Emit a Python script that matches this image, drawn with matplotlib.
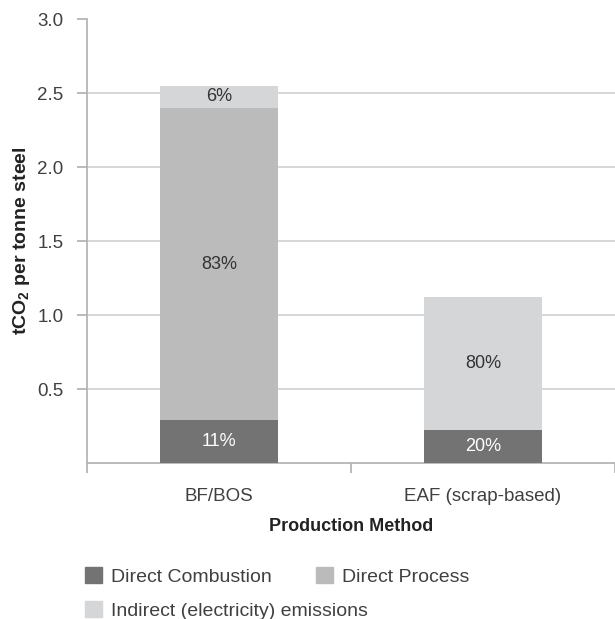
import numpy as np
import matplotlib

matplotlib.use("Agg")
import matplotlib.pyplot as plt
from matplotlib.patches import Patch

plt.rcParams["font.family"] = ["Liberation Sans", "DejaVu Sans"]
plt.rcParams["mathtext.fontset"] = "custom"
plt.rcParams["mathtext.bf"] = "Liberation Sans:bold"
plt.rcParams["mathtext.rm"] = "Liberation Sans"

methods = ["BF/BOS", "EAF (scrap-based)"]
series = ["Direct Combustion", "Direct Process", "Indirect (electricity) emissions"]
combustion = [0.29, 0.22]
process = [2.11, 0.0]
indirect = [0.15, 0.90]
shares = [["11%", "83%", "6%"], ["20%", "", "80%"]]

colors = ["#737373", "#bbbbbc", "#d5d6d8"]
label_colors = ["white", "#333333", "#333333"]
text_col = "#404040"
axis_col = "#b5b5b5"

fig = plt.figure(figsize=(6.15, 6.19), dpi=100)
ax = fig.add_axes([0.1415, 0.252, 0.8585, 0.717])

x = np.arange(len(methods))
width = 0.45
bottom = np.zeros(len(methods))
for i, vals in enumerate([combustion, process, indirect]):
    vals = np.array(vals)
    ax.bar(x, vals, width, bottom=bottom, color=colors[i], zorder=3)
    for j in range(len(methods)):
        if shares[j][i]:
            ax.text(x[j], bottom[j] + vals[j] / 2, shares[j][i], ha="center",
                    va="center", fontsize=13, color=label_colors[i], zorder=4)
    bottom += vals

ax.set_xlim(-0.5, 1.5)
ax.set_ylim(0, 3.0)
yt = np.arange(0.5, 3.01, 0.5)
ax.set_yticks(yt)
ax.set_yticklabels([f"{v:.1f}" for v in yt])
for v in yt[:-1]:
    ax.axhline(v, color="#cfcfcf", lw=1.2, zorder=1)

ax.set_xticks(x)
ax.set_xticklabels(methods)
ax.set_xticks([-0.5, 0.5, 1.5], minor=True)
ax.tick_params(axis="x", which="major", length=0, pad=18, labelsize=13.5, labelcolor=text_col)
ax.tick_params(axis="x", which="minor", length=7, width=1.3, color=axis_col)
ax.tick_params(axis="y", length=7, width=1.3, color=axis_col, pad=10,
               labelsize=13.5, labelcolor=text_col)

for s in ["top", "right"]:
    ax.spines[s].set_visible(False)
for s in ["left", "bottom"]:
    ax.spines[s].set_color(axis_col)
    ax.spines[s].set_linewidth(1.3)

ax.set_ylabel(r"tCO$_{\mathbf{2}}$ per tonne steel", fontsize=14, fontweight="bold",
              color="#222222", labelpad=4)
ax.set_xlabel("Production Method", fontsize=13, fontweight="bold", color="#222222", labelpad=9)

# legend: two entries on the first row, the third on its own row
handles = [Patch(color=c) for c in colors]
leg_kw = dict(loc="upper left", frameon=False, borderpad=0, borderaxespad=0,
              fontsize=14, labelcolor=text_col, handlelength=0.875, handleheight=0.875,
              handletextpad=0.46, columnspacing=2.3)
leg1 = fig.legend(handles[:2], series[:2], ncol=2, bbox_to_anchor=(0.138, 0.0835), **leg_kw)
fig.legend(handles[2:], series[2:], ncol=1, bbox_to_anchor=(0.138, 0.0285), **leg_kw)

fig.savefig("out.png", dpi=100)
